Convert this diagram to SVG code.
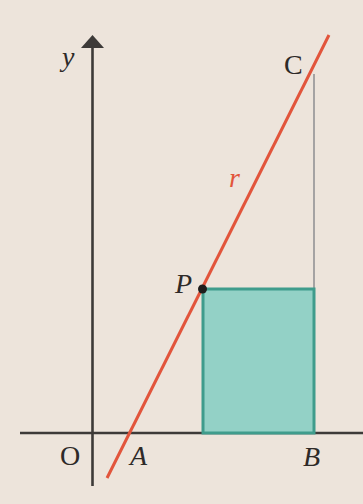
<svg xmlns="http://www.w3.org/2000/svg" width="363" height="504" viewBox="0 0 363 504">
<style>
.lbl{font-family:"Liberation Serif","DejaVu Serif",serif;font-size:28px;fill:#2e2a28}
.it{font-style:italic}
.axis{stroke:#3d3a38;stroke-width:2.6;fill:none}
</style>
<defs>
<marker id="arr" markerWidth="10" markerHeight="8" refX="5" refY="4" orient="auto" markerUnits="userSpaceOnUse" viewBox="0 0 10 8">
<path d="M0,0 L10,4 L0,8 z" fill="#3d3a38"/>
</marker>
</defs>
<rect width="363" height="504" fill="#ede4db"/>
<g id="connectors">
<line class="axis" x1="20" y1="433" x2="363" y2="433"/>
<line class="axis" x1="92.5" y1="486" x2="92.5" y2="48"/>
<path d="M92.5,35 L104,48 L81,48 z" fill="#3d3a38"/>
<line x1="314" y1="74" x2="314" y2="289" stroke="#a5a3a3" stroke-width="2"/>
</g>
<g id="rect">
<rect x="203" y="289" width="111" height="144" fill="#93d1c6" stroke="#3f9c8c" stroke-width="3"/>
</g>
<g id="line-r">
<line x1="107" y1="478" x2="329" y2="35" stroke="#e2553c" stroke-width="3"/>
</g>
<g id="point-P">
<circle cx="202.5" cy="289" r="4.5" fill="#1f1d1c"/>
</g>
<g id="labels">
<text class="lbl it" x="62" y="66">y</text>
<text class="lbl" x="284" y="74">C</text>
<text class="lbl it" x="229" y="187" fill="#e2553c" style="fill:#e2553c">r</text>
<text class="lbl it" x="175" y="293">P</text>
<text class="lbl" x="60" y="465">O</text>
<text class="lbl it" x="130" y="465">A</text>
<text class="lbl it" x="303" y="466">B</text>
</g>
</svg>
